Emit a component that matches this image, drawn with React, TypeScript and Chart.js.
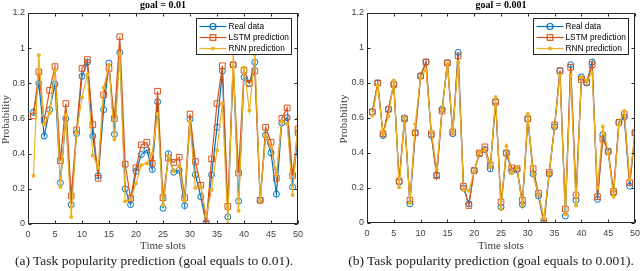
import React, { useEffect, useRef } from "react";
import { Chart, registerables } from "chart.js";

Chart.register(...registerables);

// ---------- data ----------
const timeSlots = [
  1, 2, 3, 4, 5, 6, 7, 8, 9, 10, 11, 12, 13, 14, 15, 16, 17, 18, 19, 20, 21, 22, 23, 24, 25,
  26, 27, 28, 29, 30, 31, 32, 33, 34, 35, 36, 37, 38, 39, 40, 41, 42, 43, 44, 45, 46, 47, 48, 49, 50,
];

const realData = [
  0.635, 0.8, 0.5, 0.65, 0.795, 0.235, 0.6, 0.11, 0.515, 0.84,
  0.92, 0.5, 0.275, 0.65, 0.915, 0.51, 0.975, 0.2, 0.11, 0.3,
  0.395, 0.42, 0.31, 0.695, 0.09, 0.4, 0.295, 0.305, 0.105, 0.595,
  0.28, 0.155, 0.0, 0.28, 0.55, 0.87, 0.04, 0.905, 0.13, 0.835,
  0.8, 0.92, 0.135, 0.505, 0.405, 0.17, 0.575, 0.605, 0.21, 0.515,
];

// goal = 0.01
const lstmGoalA = [
  0.615, 0.865, 0.59, 0.76, 0.895, 0.36, 0.685, 0.16, 0.535, 0.885,
  0.935, 0.565, 0.26, 0.735, 0.885, 0.6, 1.065, 0.34, 0.145, 0.32,
  0.45, 0.465, 0.345, 0.755, 0.15, 0.375, 0.35, 0.38, 0.15, 0.625,
  0.355, 0.22, 0.005, 0.37, 0.685, 0.9, 0.1, 0.905, 0.29, 0.875,
  0.8, 0.87, 0.135, 0.55, 0.465, 0.26, 0.6, 0.66, 0.275, 0.54,
];
const rnnGoalA = [
  0.275, 0.96, 0.565, 0.63, 0.875, 0.21, 0.62, 0.04, 0.52, 0.72,
  0.85, 0.39, 0.32, 0.775, 0.905, 0.48, 0.965, 0.13, 0.14, 0.23,
  0.335, 0.345, 0.4, 0.625, 0.11, 0.385, 0.3, 0.33, 0.135, 0.58,
  0.205, 0.215, 0.045, 0.195, 0.42, 0.685, 0.0, 0.97, 0.075, 0.89,
  0.645, 0.965, 0.13, 0.5, 0.44, 0.28, 0.585, 0.57, 0.165, 0.6,
];

// goal = 0.001
const lstmGoalB = [
  0.635, 0.8, 0.51, 0.65, 0.79, 0.24, 0.595, 0.13, 0.515, 0.84,
  0.92, 0.51, 0.27, 0.64, 0.915, 0.52, 0.955, 0.21, 0.1, 0.3,
  0.4, 0.435, 0.33, 0.69, 0.12, 0.4, 0.315, 0.31, 0.13, 0.595,
  0.31, 0.17, 0.01, 0.29, 0.56, 0.87, 0.08, 0.89, 0.16, 0.82,
  0.805, 0.905, 0.15, 0.48, 0.41, 0.18, 0.575, 0.62, 0.23, 0.515,
];
const rnnGoalB = [
  0.615, 0.785, 0.51, 0.61, 0.815, 0.205, 0.605, 0.115, 0.565, 0.835,
  0.875, 0.525, 0.31, 0.645, 0.91, 0.52, 0.92, 0.19, 0.185, 0.295,
  0.405, 0.42, 0.32, 0.72, 0.08, 0.44, 0.285, 0.315, 0.1, 0.625,
  0.275, 0.165, 0.03, 0.285, 0.55, 0.845, 0.05, 0.845, 0.1, 0.835,
  0.81, 0.86, 0.2, 0.55, 0.4, 0.15, 0.56, 0.64, 0.25, 0.515,
];

const xTickValues = [0, 5, 10, 15, 20, 25, 30, 35, 40, 45, 50];
const yTickValues = [0, 0.2, 0.4, 0.6, 0.8, 1, 1.2];
const yTickLabels = ["0", "0.2", "0.4", "0.6", "0.8", "1", "1.2"];
const seriesNames = ["Real data", "LSTM prediction", "RNN prediction"];
const panelTitles = ["goal = 0.01", "goal = 0.001"];
const captions = [
  "(a) Task popularity prediction (goal equals to 0.01).",
  "(b) Task popularity prediction (goal equals to 0.001).",
];
const xAxisTitle = "Time slots";
const yAxisTitle = "Probability";

const COLORS = ["#0072BD", "#D95319", "#EDB120"];
const AXIS_COLOR = "#262626";
const LABEL_COLOR = "#404040";

type Panel = {
  title: string;
  lstm: number[];
  rnn: number[];
  padLeft: number;
  padRight: number;
  xHeight: number;
  yLabelX: number;
};

const panels: Panel[] = [
  { title: panelTitles[0], lstm: lstmGoalA, rnn: rnnGoalA, padLeft: 0, padRight: 22, xHeight: 47, yLabelX: 6 },
  { title: panelTitles[1], lstm: lstmGoalB, rnn: rnnGoalB, padLeft: 19, padRight: 3, xHeight: 48, yLabelX: 24 },
];

function toPoints(vals: number[]) {
  return timeSlots.map((t, i) => ({ x: t, y: vals[i] }));
}

const decorPlugin = {
  id: "decor",
  afterDatasetsDraw(chart: any, _args: any, opts: any) {
    const { ctx, chartArea: a, scales } = chart;
    ctx.save();
    // frame
    ctx.strokeStyle = AXIS_COLOR;
    ctx.lineWidth = 1;
    const L = Math.round(a.left) + 0.5;
    const R = Math.round(a.right) - 0.5;
    const T = Math.round(a.top) + 0.5;
    const B = Math.round(a.bottom) - 0.5;
    ctx.strokeRect(L, T, R - L, B - T);
    // inward ticks
    const tl = 3;
    ctx.beginPath();
    for (const v of xTickValues) {
      const px = Math.round(scales.x.getPixelForValue(v)) + 0.5;
      ctx.moveTo(px, B);
      ctx.lineTo(px, B - tl);
      ctx.moveTo(px, T);
      ctx.lineTo(px, T + tl);
    }
    for (const v of yTickValues) {
      const py = Math.round(scales.y.getPixelForValue(v)) + 0.5;
      ctx.moveTo(L, py);
      ctx.lineTo(L + tl, py);
      ctx.moveTo(R, py);
      ctx.lineTo(R - tl, py);
    }
    ctx.stroke();

    // y tick labels
    ctx.fillStyle = LABEL_COLOR;
    ctx.font = '9px "Liberation Sans"';
    ctx.textAlign = "right";
    ctx.textBaseline = "middle";
    yTickValues.forEach((v, i) => {
      ctx.fillText(yTickLabels[i], a.left - 3, scales.y.getPixelForValue(v));
    });

    // title
    ctx.fillStyle = "#000";
    ctx.font = 'bold 10px "Liberation Serif"';
    ctx.textAlign = "center";
    ctx.textBaseline = "alphabetic";
    ctx.fillText(opts.title, (a.left + a.right) / 2, 8);

    // axis titles
    ctx.fillStyle = LABEL_COLOR;
    ctx.font = '11px "Liberation Serif"';
    ctx.textBaseline = "middle";
    ctx.fillText(xAxisTitle, (a.left + a.right) / 2, 246);
    ctx.save();
    ctx.translate(opts.yLabelX, (a.top + a.bottom) / 2 + 1);
    ctx.rotate(-Math.PI / 2);
    ctx.fillText(yAxisTitle, 0, 0);
    ctx.restore();
    ctx.restore();
  },
  afterDraw(chart: any) {
    const { ctx, chartArea: a } = chart;
    ctx.save();
    const bx = Math.round(a.right) - 101.5;
    const by = Math.round(a.top) + 5.5;
    const bw = 95;
    const bh = 36;
    ctx.fillStyle = "#fff";
    ctx.fillRect(bx, by, bw, bh);
    ctx.strokeStyle = AXIS_COLOR;
    ctx.lineWidth = 1;
    ctx.strokeRect(bx, by, bw, bh);
    ctx.font = '8.3px "Liberation Sans"';
    ctx.textAlign = "left";
    ctx.textBaseline = "middle";
    seriesNames.forEach((name, i) => {
      const y = Math.round(by + 7 + i * 11) + 0.5;
      const x0 = bx + 3;
      const x1 = bx + 30;
      const c = COLORS[i];
      ctx.strokeStyle = c;
      ctx.lineWidth = 1.2;
      ctx.beginPath();
      ctx.moveTo(x0, y);
      ctx.lineTo(x1, y);
      ctx.stroke();
      const cx = (x0 + x1) / 2;
      ctx.beginPath();
      if (i === 0) {
        ctx.arc(cx, y, 3, 0, Math.PI * 2);
        ctx.stroke();
      } else if (i === 1) {
        ctx.strokeRect(cx - 2.8, y - 2.8, 5.6, 5.6);
      } else {
        ctx.fillStyle = c;
        ctx.arc(cx, y, 2, 0, Math.PI * 2);
        ctx.fill();
      }
      ctx.fillStyle = "#000";
      ctx.fillText(name, bx + 32, y + 0.5);
    });
    ctx.restore();
  },
};

function ChartPanel({ panel, left }: { panel: Panel; left: number }) {
  const ref = useRef<HTMLCanvasElement | null>(null);
  useEffect(() => {
    if (!ref.current) return;
    const chart = new Chart(ref.current, {
      type: "line",
      data: {
        datasets: [
          {
            label: seriesNames[0],
            data: toPoints(realData),
            borderColor: COLORS[0],
            backgroundColor: "rgba(0,0,0,0)",
            borderWidth: 1.2,
            pointStyle: "circle",
            pointRadius: 3,
            pointBorderWidth: 1,
            pointBorderColor: COLORS[0],
            pointBackgroundColor: "rgba(0,0,0,0)",
            order: 3,
          },
          {
            label: seriesNames[1],
            data: toPoints(panel.lstm),
            borderColor: COLORS[1],
            backgroundColor: "rgba(0,0,0,0)",
            borderWidth: 1.2,
            pointStyle: "rect",
            pointRadius: 4,
            pointBorderWidth: 1,
            pointBorderColor: COLORS[1],
            pointBackgroundColor: "rgba(0,0,0,0)",
            order: 2,
          },
          {
            label: seriesNames[2],
            data: toPoints(panel.rnn),
            borderColor: COLORS[2],
            backgroundColor: COLORS[2],
            borderWidth: 1.2,
            pointStyle: "circle",
            pointRadius: 2,
            pointBorderWidth: 0,
            pointBackgroundColor: COLORS[2],
            order: 1,
          },
        ],
      },
      options: {
        responsive: false,
        animation: false,
        devicePixelRatio: 1,
        events: [],
        clip: 0 as any,
        layout: { padding: { left: panel.padLeft, right: panel.padRight, top: 13, bottom: 0 } },
        plugins: {
          legend: { display: false },
          tooltip: { enabled: false },
          title: { display: false },
          decor: { title: panel.title, yLabelX: panel.yLabelX },
        } as any,
        scales: {
          x: {
            type: "linear",
            min: 0,
            max: 50,
            grid: { display: false, drawTicks: false },
            border: { display: false },
            afterBuildTicks: (s: any) => {
              s.ticks = xTickValues.map((v) => ({ value: v }));
            },
            afterFit: (s: any) => {
              s.height = panel.xHeight;
              s.paddingLeft = 0;
              s.paddingRight = 0;
            },
            ticks: {
              color: LABEL_COLOR,
              font: { family: '"Liberation Sans"', size: 9 },
              padding: 5,
              maxRotation: 0,
              autoSkip: false,
            },
          },
          y: {
            type: "linear",
            min: 0,
            max: 1.2,
            grid: { display: false, drawTicks: false },
            border: { display: false },
            afterBuildTicks: (s: any) => {
              s.ticks = yTickValues.map((v) => ({ value: v }));
            },
            afterFit: (s: any) => {
              s.width = 28;
              s.paddingTop = 0;
              s.paddingBottom = 0;
            },
            ticks: {
              display: false,
            },
          },
        },
      },
      plugins: [decorPlugin as any],
    });
    return () => chart.destroy();
  }, [panel]);
  return (
    <canvas
      ref={ref}
      width={320}
      height={271}
      style={{ position: "absolute", left, top: 0, width: 320, height: 271 }}
    />
  );
}

export default function App() {
  const captionStyle = (cx: number): React.CSSProperties => ({
    position: "absolute",
    left: cx - 160,
    width: 320,
    top: 252,
    height: 18,
    lineHeight: "18px",
    textAlign: "center",
    fontFamily: '"Liberation Serif", serif',
    fontSize: 13.5,
    color: "#1a1a1a",
    whiteSpace: "nowrap",
  });
  return (
    <div style={{ position: "fixed", left: 0, top: 0, width: 640, height: 271, background: "#fff", overflow: "hidden" }}>
      <ChartPanel panel={panels[0]} left={0} />
      <ChartPanel panel={panels[1]} left={320} />
      <div style={captionStyle(154)}>{captions[0]}</div>
      <div style={captionStyle(491)}>{captions[1]}</div>
    </div>
  );
}
